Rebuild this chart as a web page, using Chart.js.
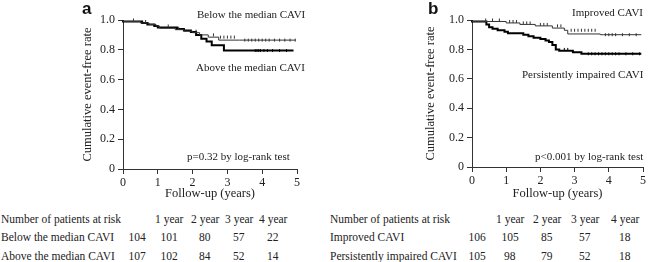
<!DOCTYPE html>
<html>
<head>
<meta charset="utf-8">
<script src="https://cdn.jsdelivr.net/npm/chart.js@4"></script>
<style>
  body { margin: 0; background: #fff; width: 648px; height: 262px; position: relative; overflow: hidden;
         font-family: "Liberation Serif", serif; color: #222; }
  .abs { position: absolute; white-space: nowrap; line-height: 1; }
  .note { font-size: 11px; }
  .letter { font-family: "Liberation Sans", Arial, sans-serif; font-weight: bold; font-size: 17px; color: #111; }
  .tbl { font-size: 11.5px; }
  canvas { position: absolute; top: 0; }
</style>
</head>
<body>
<canvas id="chartA" width="234" height="205" style="left:76px"></canvas>
<canvas id="chartB" width="229" height="205" style="left:419px"></canvas>
<div id="texts"></div>
<script>
// Kaplan-Meier steps, panel a (time in years, event-free rate)
const aBelowTime = [0, 0.5, 0.75, 0.95, 1.05, 1.5, 1.75, 2.0, 2.2, 2.45, 2.75, 3.35, 4.95];
const aBelowSurv = [1, 0.99, 0.98, 0.97, 0.96, 0.945, 0.935, 0.925, 0.915, 0.9, 0.885, 0.865, 0.865];
const aBelowCensor = [0.3, 0.65, 1.3, 1.6, 2.1, 2.6, 2.8, 2.9, 3.0, 3.1, 3.2, 3.5, 3.6, 3.7, 3.8, 3.9, 4.0, 4.1, 4.2, 4.35, 4.5, 4.65, 4.8, 4.95];
const aAboveTime = [0, 0.55, 0.7, 0.9, 1.0, 1.55, 1.75, 1.95, 2.1, 2.25, 2.4, 2.55, 2.9, 3.75, 4.9];
const aAboveSurv = [1, 0.99, 0.98, 0.97, 0.96, 0.95, 0.94, 0.93, 0.92, 0.9, 0.875, 0.855, 0.83, 0.795, 0.795];
const aAboveCensor = [3.8, 3.85, 3.9, 3.95, 4.05, 4.15, 4.3, 4.5, 4.7];

// panel b
const bImprTime = [0, 1.0, 1.4, 1.85, 2.35, 2.7, 2.8, 3.75, 3.85, 4.95];
const bImprSurv = [1, 0.99, 0.98, 0.97, 0.96, 0.945, 0.93, 0.905, 0.9, 0.9];
const bImprCensor = [0.4, 0.6, 0.8, 1.1, 1.2, 1.3, 1.5, 1.6, 1.7, 2.0, 2.1, 2.2, 2.5, 2.6, 2.9, 3.0, 3.1, 3.2, 3.3, 3.4, 3.5, 3.6, 3.9, 4.0, 4.1, 4.2, 4.4, 4.6, 4.8];
const bImpTime = [0, 0.42, 0.5, 0.6, 0.75, 0.95, 1.05, 1.5, 1.65, 1.8, 2.0, 2.15, 2.25, 2.35, 2.45, 2.55, 2.95, 3.2, 3.35, 4.95];
const bImpSurv = [1, 0.99, 0.97, 0.95, 0.94, 0.93, 0.92, 0.91, 0.9, 0.89, 0.88, 0.87, 0.86, 0.85, 0.83, 0.8, 0.79, 0.78, 0.77, 0.77];
const bImpCensor = [2.7, 2.8, 3.4, 3.5, 3.6, 3.7, 3.8, 3.9, 4.0, 4.1, 4.2, 4.3, 4.5, 4.7, 4.9];

// numbers at risk
const riskYears = ['1 year', '2 year', '3 year', '4 year'];
const aRiskLabels = ['Below the median CAVI', 'Above the median CAVI'];
const aRiskBelow = [104, 101, 80, 57, 22];
const aRiskAbove = [107, 102, 84, 52, 14];
const bRiskLabels = ['Improved CAVI', 'Persistently impaired CAVI'];
const bRiskImproved = [106, 105, 85, 57, 18];
const bRiskImpaired = [105, 98, 79, 52, 18];

const xTicks = [0, 1, 2, 3, 4, 5];
const yTicks = [0, 0.2, 0.4, 0.6, 0.8, 1.0];

const serif = 'Liberation Serif';

function toPoints(times, surv) {
    return times.map((t, i) => ({ x: t, y: surv[i] }));
}

// censor marks sit on the curve at that time
function censorPoints(marks, times, surv) {
    return marks.map(t => {
        let s = surv[0];
        for (let i = 0; i < times.length; i++) {
            if (times[i] <= t) s = surv[i];
        }
        return { x: t, y: s };
    });
}

function curve(times, surv, width, color) {
    return {
        data: toPoints(times, surv),
        stepped: 'after',
        borderColor: color,
        borderWidth: width,
        pointRadius: 0,
        fill: false,
        clip: 4
    };
}

function marks(marksArr, times, surv, color) {
    return {
        type: 'scatter',
        data: censorPoints(marksArr, times, surv),
        showLine: false,
        pointStyle: 'line',
        rotation: 90,
        radius: 1.5,
        borderColor: color,
        borderWidth: 1,
        clip: 4
    };
}

function makeChart(id, datasets, yWidth, xHeight, padRight) {
    new Chart(document.getElementById(id), {
        type: 'line',
        data: { datasets: datasets },
        options: {
            responsive: false,
            animation: false,
            layout: { padding: { top: 20, right: padRight, left: 0, bottom: 0 } },
            plugins: { legend: { display: false }, tooltip: { enabled: false } },
            scales: {
                x: {
                    type: 'linear',
                    min: 0,
                    max: 5,
                    afterBuildTicks: scale => { scale.ticks = xTicks.map(v => ({ value: v })); },
                    afterFit: scale => { scale.height = xHeight; },
                    ticks: { color: '#222', font: { family: serif, size: 12 }, padding: 2 },
                    grid: { drawOnChartArea: false, drawTicks: true, tickLength: 5, color: '#333' },
                    border: { display: true, color: '#333', width: 1 },
                    title: { display: true, text: 'Follow-up (years)', color: '#222', font: { family: serif, size: 12.5 }, padding: { top: 0, bottom: 4 } }
                },
                y: {
                    min: 0,
                    max: 1,
                    afterBuildTicks: scale => { scale.ticks = yTicks.map(v => ({ value: v })); },
                    afterFit: scale => { scale.width = yWidth; },
                    ticks: {
                        color: '#222',
                        font: { family: serif, size: 12 },
                        padding: 3,
                        callback: v => v === 0 ? '0' : v.toFixed(1)
                    },
                    grid: { drawOnChartArea: false, drawTicks: true, tickLength: 5, color: '#333' },
                    border: { display: true, color: '#333', width: 1 },
                    title: { display: true, text: 'Cumulative event-free rate', color: '#222', font: { family: serif, size: 12.5 }, padding: { top: 4, bottom: 0 } }
                }
            }
        }
    });
}

makeChart('chartA', [
    curve(aBelowTime, aBelowSurv, 1, '#333'),
    marks(aBelowCensor, aBelowTime, aBelowSurv, '#333'),
    curve(aAboveTime, aAboveSurv, 2, '#000'),
    marks(aAboveCensor, aAboveTime, aAboveSurv, '#000')
], 47, 36, 13);

makeChart('chartB', [
    curve(bImprTime, bImprSurv, 1, '#333'),
    marks(bImprCensor, bImprTime, bImprSurv, '#333'),
    curve(bImpTime, bImpSurv, 2, '#000'),
    marks(bImpCensor, bImpTime, bImpSurv, '#000')
], 53, 38, 3);

// text overlays: panel letters, curve labels, p-values and the at-risk table
const box = document.getElementById('texts');
function put(text, cls, x, y, align) {
    const d = document.createElement('div');
    d.className = 'abs ' + cls;
    d.textContent = text;
    box.appendChild(d);
    let left = x;
    if (align === 'right') left = x - d.offsetWidth;
    if (align === 'center') left = x - d.offsetWidth / 2;
    d.style.left = left + 'px';
    d.style.top = (y - d.offsetHeight / 2) + 'px';
}

put('a', 'letter', 82, 8, 'left');
put('b', 'letter', 428, 8, 'left');
put('Below the median CAVI', 'note', 305, 14, 'right');
put('Above the median CAVI', 'note', 305, 67, 'right');
put('p=0.32 by log-rank test', 'note', 290, 156, 'right');
put('Improved CAVI', 'note', 643, 12, 'right');
put('Persistently impaired CAVI', 'note', 643, 74, 'right');
put('p<0.001 by log-rank test', 'note', 643, 156, 'right');

const rowY = [220, 238, 257];
const aCols = [137, 169, 205, 239, 273];
const bCols = [477, 510, 547, 585, 625];

function table(x0, cols, labels, rows) {
    put('Number of patients at risk', 'tbl', x0, rowY[0], 'left');
    riskYears.forEach((t, i) => put(t, 'tbl', cols[i + 1], rowY[0], 'center'));
    rows.forEach((vals, r) => {
        put(labels[r], 'tbl', x0, rowY[r + 1], 'left');
        vals.forEach((v, i) => put(String(v), 'tbl', cols[i], rowY[r + 1], 'center'));
    });
}

table(1, aCols, aRiskLabels, [aRiskBelow, aRiskAbove]);
table(330, bCols, bRiskLabels, [bRiskImproved, bRiskImpaired]);
</script>
</body>
</html>
